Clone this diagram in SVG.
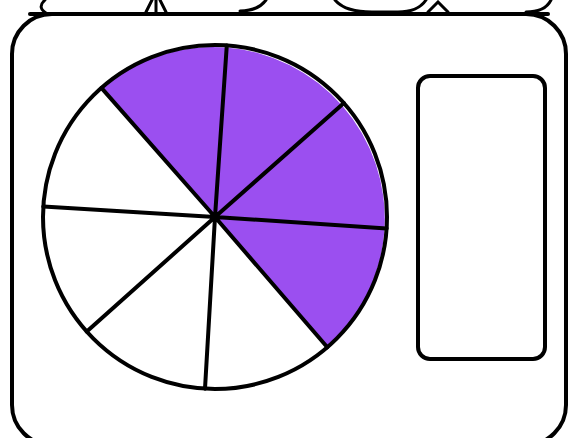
<svg xmlns="http://www.w3.org/2000/svg" width="573" height="438" viewBox="0 0 573 438">
<style>
.ln{fill:none;stroke:#000;stroke-width:4;stroke-linecap:round;stroke-linejoin:round}
.thin{fill:none;stroke:#000;stroke-width:3;stroke-linecap:round}
.pu{fill:#9b4ff0}
</style>
<rect width="573" height="438" fill="#fff"/>
<g id="top-remnants">
<path class="thin" d="M45 0 Q36 8 48 14"/>
<path class="thin" d="M146 12 L152 0 M156 12 L156 0 M166 12 L160 0"/>
<path class="thin" d="M240 11 Q258 11 266 0"/>
<path class="thin" d="M335 0 Q345 12 372 12 L398 12 Q418 12 426 0"/>
<path class="thin" d="M428 12 L438 2 L448 12"/>
<path class="thin" d="M526 12 Q545 12 551 0"/>
</g>
<g id="frame">
<rect class="ln" x="12" y="14" width="554" height="431" rx="40"/>
<line class="ln" x1="30" y1="14" x2="548" y2="14"/>
</g>
<g id="pie">
<path class="pu" d="M215 217 L101.4 87.9 A172 172 0 0 1 327.3 347.3 Z"/>
<circle class="ln" cx="215" cy="217" r="172"/>
<path class="ln" d="M215 217 L226.8 45.4 M215 217 L343.9 103.1 M215 217 L386.6 228.4 M215 217 L327.3 347.3 M215 217 L205 388.7 M215 217 L86.8 331.6 M215 217 L43.3 206.6 M215 217 L101.4 87.9"/>
</g>
<g id="box">
<rect class="ln" x="418" y="76" width="127" height="283" rx="12"/>
</g>
</svg>
